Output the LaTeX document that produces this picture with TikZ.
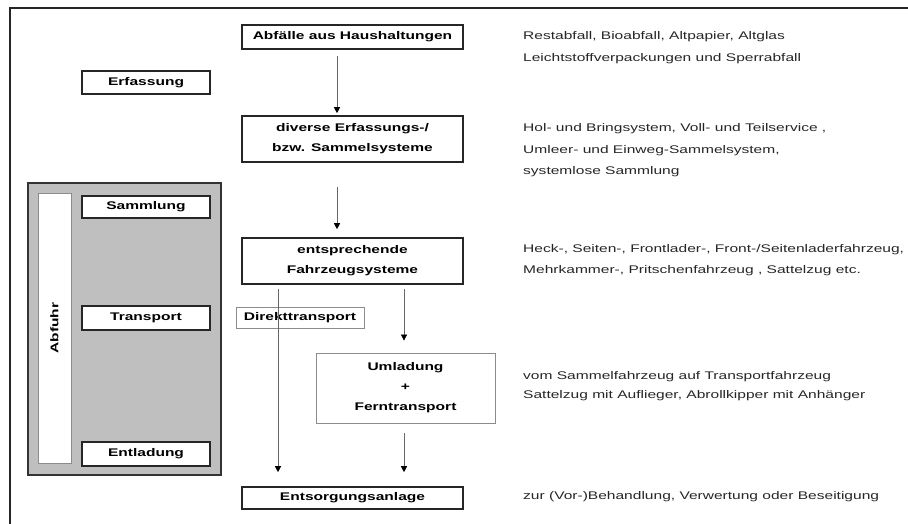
\documentclass[tikz,border=0pt]{standalone}
\usepackage{fontspec}
\setmainfont{Liberation Sans}[FakeStretch=1.4]
\usetikzlibrary{arrows.meta}
\begin{document}
\begin{tikzpicture}[x=1pt,y=-1pt,
  box/.style={draw=black!85,line width=1.6pt,fill=white,inner sep=0pt,align=center,font=\fontsize{11.1}{20}\selectfont\bfseries},
  lightbox/.style={draw=black!45,line width=0.8pt,fill=white,inner sep=0pt,align=center,font=\fontsize{11.1}{20}\selectfont\bfseries},
  desc/.style={anchor=west,inner sep=0pt,font=\fontsize{11.1}{13}\selectfont,text=black!85},
  arr/.style={draw=black!60,line width=0.7pt,-{Triangle[length=6pt,width=6pt,fill=black,color=black]}}]
\useasboundingbox (0,0) rectangle (908,524);
\draw[line width=1.4pt,black!85] (10,524) -- (10,8) -- (908,8);
% grey Abfuhr panel
\node[draw=black!80,line width=1.4pt,fill=black!25,minimum width=193pt,minimum height=292pt,inner sep=0pt] (panel) at (124.5,329) {};
\node[draw=black!45,line width=0.7pt,fill=white,minimum width=33pt,minimum height=270pt,inner sep=0pt] (strip) at (54.5,328) {};
\node[rotate=90,font=\fontsize{11.1}{12}\selectfont\bfseries] (abfuhr) at (strip.center) {Abfuhr};
% left stage boxes
\node[box,minimum width=128pt,minimum height=23pt] (erf) at (146,82.5) {Erfassung};
\node[box,minimum width=128pt,minimum height=22pt] (samm) at (146,207) {Sammlung};
\node[box,minimum width=128pt,minimum height=24pt] (trans) at (146,318) {Transport};
\node[box,minimum width=128pt,minimum height=24pt] (entl) at (146,454) {Entladung};
% main column
\node[box,minimum width=221pt,minimum height=24pt] (hh) at (352.5,37) {Abfälle aus Haushaltungen};
\node[box,minimum width=221pt,minimum height=46pt] (div) at (352.5,139) {diverse Erfassungs-/\\bzw. Sammelsysteme};
\node[box,minimum width=221pt,minimum height=46pt] (fz) at (352.5,261) {entsprechende\\Fahrzeugsysteme};
\node[lightbox,minimum width=128pt,minimum height=21pt] (direkt) at (300,317.5) {Direkttransport};
\node[lightbox,minimum width=179pt,minimum height=70pt] (uml) at (405.5,388) {Umladung\\+\\Ferntransport};
\node[box,minimum width=221pt,minimum height=22pt] (ents) at (352.5,498) {Entsorgungsanlage};
% arrows
\coordinate (ca) at (337,0);
\coordinate (cl) at (278,0);
\coordinate (cr) at (404,0);
\draw[arr,shorten <=6pt,shorten >=2pt] (hh.south -| ca) -- (div.north -| ca);
\draw[arr,shorten <=24pt,shorten >=8pt] (div.south -| ca) -- (fz.north -| ca);
\draw[arr,shorten <=4pt,shorten >=14pt] (fz.south -| cl) -- (ents.north -| cl);
\draw[arr,shorten <=4pt,shorten >=12pt] (fz.south -| cr) -- (uml.north -| cr);
\draw[arr,shorten <=10pt,shorten >=14pt] (uml.south -| cr) -- (ents.north -| cr);
% descriptions
\node[desc] (d1a) at (523,37) {Restabfall, Bioabfall, Altpapier, Altglas};
\node[desc] (d1b) at (523,59) {Leichtstoffverpackungen und Sperrabfall};
\node[desc] (d2a) at (523,129) {Hol- und Bringsystem, Voll- und Teilservice ,};
\node[desc] (d2b) at (523,151) {Umleer- und Einweg-Sammelsystem,};
\node[desc] (d2c) at (523,172) {systemlose Sammlung};
\node[desc] (d3a) at (523,250) {Heck-, Seiten-, Frontlader-, Front-/Seitenladerfahrzeug,};
\node[desc] (d3b) at (523,271) {Mehrkammer-, Pritschenfahrzeug , Sattelzug etc.};
\node[desc] (d4a) at (523,377) {vom Sammelfahrzeug auf Transportfahrzeug};
\node[desc] (d4b) at (523,396) {Sattelzug mit Auflieger, Abrollkipper mit Anhänger};
\node[desc] (d5) at (523,497) {zur (Vor-)Behandlung, Verwertung oder Beseitigung};
\end{tikzpicture}
\end{document}
